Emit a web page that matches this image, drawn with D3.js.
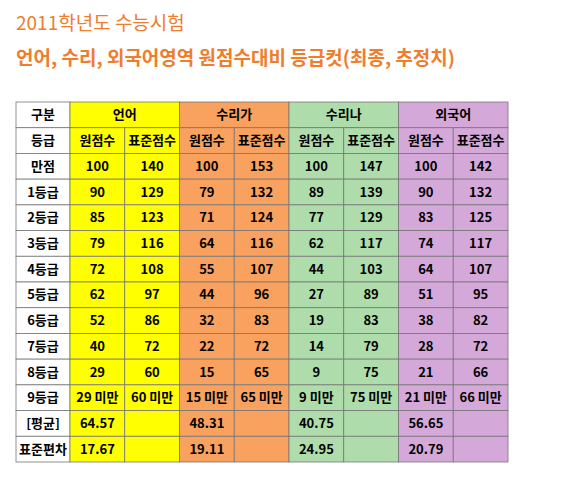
<!DOCTYPE html><html><head><meta charset="utf-8"><script src="https://d3js.org/d3.v7.min.js"></script>
<style>body{margin:0;background:#fff}</style></head><body><svg id="c" width="572" height="483"></svg>
<script>
const subjects=["언어","수리가","수리나","외국어"];
const subColors=["#ffff00","#f9a15e","#afdcab","#d4a8d8"];
const rowLabels=["만점","1등급","2등급","3등급","4등급","5등급","6등급","7등급","8등급","9등급","[평균]","표준편차"];
const raw언어=["100","90","85","79","72","62","52","40","29","29 미만","64.57","17.67"];
const std언어=["140","129","123","116","108","97","86","72","60","60 미만","",""];
const raw수리가=["100","79","71","64","55","44","32","22","15","15 미만","48.31","19.11"];
const std수리가=["153","132","124","116","107","96","83","72","65","65 미만","",""];
const raw수리나=["100","89","77","62","44","27","19","14","9","9 미만","40.75","24.95"];
const std수리나=["147","139","129","117","103","89","83","79","75","75 미만","",""];
const raw외국어=["100","90","83","74","64","51","38","28","21","21 미만","56.65","20.79"];
const std외국어=["142","132","125","117","107","95","82","72","66","66 미만","",""];
const cols=[raw언어,std언어,raw수리가,std수리가,raw수리나,std수리나,raw외국어,std외국어];
const svg=d3.select("#c");const F="'Noto Sans CJK KR',sans-serif";
svg.append("text").attr("x",16).attr("y",30).attr("fill","#ef7d2b").attr("font-family",F).attr("font-size",19).text("2011학년도 수능시험");
svg.append("text").attr("x",16).attr("y",65).attr("fill","#ef7d2b").attr("font-family",F).attr("font-size",19).attr("font-weight","bold").text("언어, 수리, 외국어영역 원점수대비 등급컷(최종, 추정치)");
const x0=16,x1=70,x2=508,y0=102,y1=462,nr=14;
const xs=d3.scaleBand().domain(d3.range(8)).range([x1,x2]);
const ys=d3.scaleBand().domain(d3.range(nr)).range([y0,y1]);
const g=svg.append("g").attr("font-family",F).attr("font-weight","bold").attr("font-size",13).attr("text-anchor","middle");
function cell(x,w,r,fill,t){g.append("rect").attr("x",x).attr("y",ys(r)).attr("width",w).attr("height",ys.bandwidth()).attr("fill",fill).attr("stroke","#777").attr("stroke-width",0.8);
 if(t)g.append("text").attr("x",x+w/2).attr("y",ys(r)+ys.bandwidth()/2+4.5).text(t);}
cell(x0,x1-x0,0,"#fff","구분");cell(x0,x1-x0,1,"#fff","등급");
rowLabels.forEach((l,i)=>cell(x0,x1-x0,i+2,"#fff",l));
subjects.forEach((s,k)=>{cell(xs(2*k),xs.bandwidth()*2,0,subColors[k],s);
 cell(xs(2*k),xs.bandwidth(),1,subColors[k],"원점수");cell(xs(2*k+1),xs.bandwidth(),1,subColors[k],"표준점수");});
cols.forEach((c,j)=>c.forEach((v,i)=>cell(xs(j),xs.bandwidth(),i+2,subColors[Math.floor(j/2)],v)));
</script></body></html>
